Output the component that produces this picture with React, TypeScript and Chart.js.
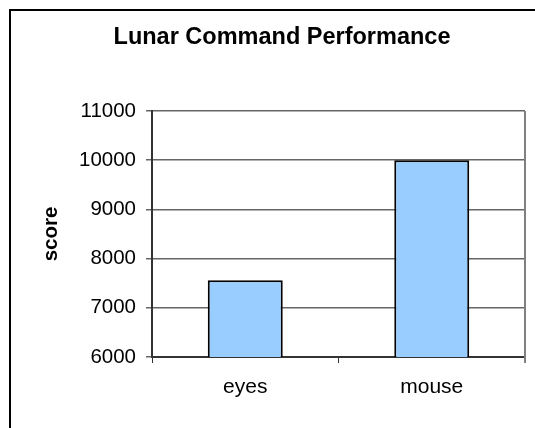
import React, { useEffect, useRef } from "react";
import { Chart, registerables } from "chart.js";

Chart.register(...registerables);

const categories = ["eyes", "mouse"];
const scores = [7560, 10000];
const yMin = 6000;
const yMax = 11000;
const yStep = 1000;
const chartTitle = "Lunar Command Performance";
const yTitle = "score";

const FONT = "'Liberation Sans', Arial, sans-serif";

const plotFrame = {
  id: "plotFrame",
  afterDraw(chart: any) {
    const { ctx, chartArea } = chart;
    ctx.save();
    ctx.strokeStyle = "#808080";
    ctx.lineWidth = 2;
    ctx.beginPath();
    ctx.moveTo(chartArea.right, chartArea.top);
    ctx.lineTo(chartArea.right, chartArea.bottom + 6);
    ctx.stroke();
    ctx.restore();
  },
};

export default function App() {
  const ref = useRef<HTMLCanvasElement>(null);
  useEffect(() => {
    if (!ref.current) return;
    const chart = new Chart(ref.current, {
      type: "bar",
      data: {
        labels: categories,
        datasets: [
          {
            data: scores,
            backgroundColor: "#99ccff",
            borderColor: "#000000",
            borderWidth: 2,
            barPercentage: 0.402,
            categoryPercentage: 1,
          },
        ],
      },
      options: {
        responsive: false,
        animation: false,
        layout: { padding: { left: 39, right: 10, top: 0, bottom: 0 } },
        plugins: {
          legend: { display: false },
          tooltip: { enabled: false },
          title: {
            display: true,
            text: chartTitle,
            color: "#000",
            font: { family: FONT, size: 23.5, weight: "bold", lineHeight: 1.2 },
            padding: { top: 23.9, bottom: 58.9 },
          },
        },
        scales: {
          x: {
            afterFit: (s: any) => {
              s.height = 71;
            },
            grid: {
              offset: true,
              drawOnChartArea: false,
              drawTicks: true,
              tickLength: 6,
              color: "#333",
              lineWidth: 1,
            },
            border: { display: true, color: "#333", width: 2 },
            ticks: {
              color: "#000",
              padding: 12,
              font: { family: FONT, size: 21 },
            },
          },
          y: {
            min: yMin,
            max: yMax,
            afterFit: (s: any) => {
              s.width = 113;
            },
            grid: {
              color: "#666",
              lineWidth: 1.5,
              tickLength: 6,
            },
            border: { display: true, color: "#333", width: 2 },
            ticks: {
              stepSize: yStep,
              color: "#000",
              padding: 10,
              font: { family: FONT, size: 20.5 },
              callback: (v: any) => String(v),
            },
            title: {
              display: true,
              text: yTitle,
              color: "#000",
              padding: 0,
              font: { family: FONT, size: 20.5, weight: "bold", lineHeight: 1.2 },
            },
          },
        },
      },
      plugins: [plotFrame],
    });
    return () => chart.destroy();
  }, []);

  return (
    <div style={{ position: "fixed", left: 0, top: 0, width: 535, height: 428, overflow: "hidden", background: "#fff" }}>
      <div
        style={{
          position: "absolute",
          left: 9,
          top: 9,
          width: 560,
          height: 460,
          border: "2px solid #000",
        }}
      />
      <canvas ref={ref} width={535} height={428} style={{ position: "absolute", left: 0, top: 0 }} />
    </div>
  );
}
